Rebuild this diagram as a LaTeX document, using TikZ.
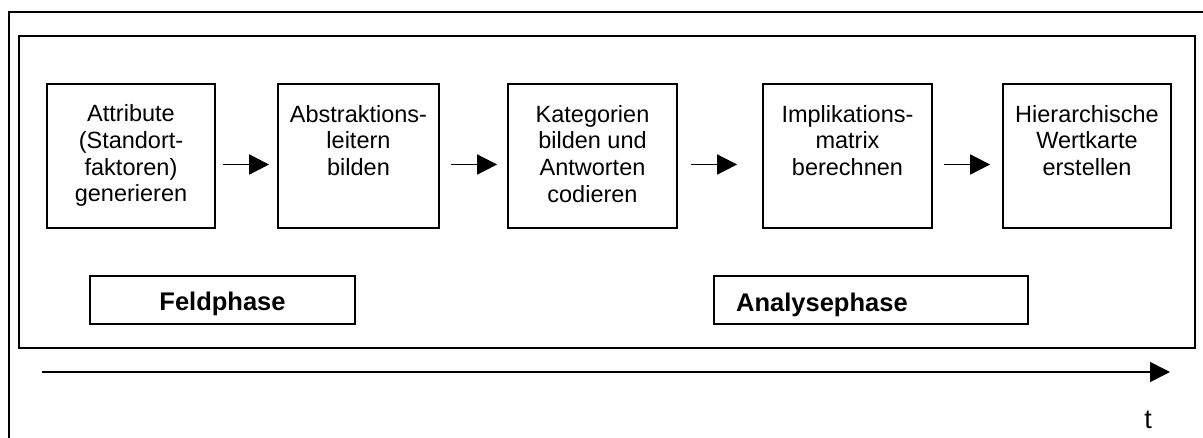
\documentclass[tikz,border=0pt]{standalone}
\usepackage{fontspec}
\setmainfont{Liberation Sans}
\usetikzlibrary{arrows.meta}
\tikzset{
  stepbox/.style={draw, line width=1.8pt, minimum width=#1, minimum height=144pt, inner sep=0pt},
  boxtext/.style={align=center, inner sep=0pt, font=\fontsize{23.5}{26.7}\selectfont},
  phasebox/.style={draw, line width=1.8pt, minimum height=48pt, inner sep=0pt},
  phasetext/.style={inner sep=0pt, font=\fontsize{25.5}{30}\selectfont\bfseries},
  frame/.style={draw, line width=1.8pt},
  arr/.style={line width=1.8pt, -{Triangle[length=20pt,width=20pt]}}
}
\begin{document}
\begin{tikzpicture}[x=1pt,y=-1pt]
\useasboundingbox (0,0) rectangle (1203,437);
\clip (0,0) rectangle (1203,437);
\fill[white] (0,0) rectangle (1203,437);
% frames
\draw[frame] (9,12) rectangle (1215,450);
\draw[frame] (19,36) rectangle (1195,348);
% step boxes
\node[stepbox=168pt] (b1) at (131,156) {};
\node[stepbox=161pt] (b2) at (358.5,156) {};
\node[stepbox=169pt] (b3) at (592.5,156) {};
\node[stepbox=169pt] (b4) at (847.5,156) {};
\node[stepbox=168pt] (b5) at (1087,156) {};
% texts
\node[boxtext, anchor=north] (t1) at (131,104.5) {Attribute\\(Standort-\\faktoren)\\generieren};
\node[boxtext, anchor=north] (t2) at (358.5,105) {Abstraktions-\\leitern\\bilden};
\node[boxtext, anchor=north] (t3) at (592.5,105) {Kategorien\\bilden und\\Antworten\\codieren};
\node[boxtext, anchor=north] (t4) at (847.5,105) {Implikations-\\matrix\\berechnen};
\node[boxtext, anchor=north] (t5) at (1087,105) {Hierarchische\\Wertkarte\\erstellen};
% arrows between steps
\draw[arr] ([shift={(7,8.5)}]b1.east) -- ([shift={(-8,8.5)}]b2.west);
\draw[arr] ([shift={(11,8.5)}]b2.east) -- ([shift={(-10,8.5)}]b3.west);
\draw[arr] ([shift={(13,8.5)}]b3.east) -- ([shift={(-25,8.5)}]b4.west);
\draw[arr] ([shift={(11,8.5)}]b4.east) -- ([shift={(-12,8.5)}]b5.west);
% phase boxes
\node[phasebox, minimum width=265pt] (p1) at (222.5,300) {};
\node[phasebox, minimum width=314pt] (p2) at (871,300) {};
\node[phasetext, anchor=base] (l1) at (222.5,310) {Feldphase};
\node[phasetext, anchor=base west] (l2) at (736,311) {Analysephase};
% time axis
\coordinate (ts) at (42,372);
\coordinate (te) at (1170,372);
\draw[arr] (ts) -- (te);
\node[inner sep=0pt, font=\fontsize{27}{30}\selectfont, anchor=base] (tt) at (1148,428) {t};
\end{tikzpicture}
\end{document}
